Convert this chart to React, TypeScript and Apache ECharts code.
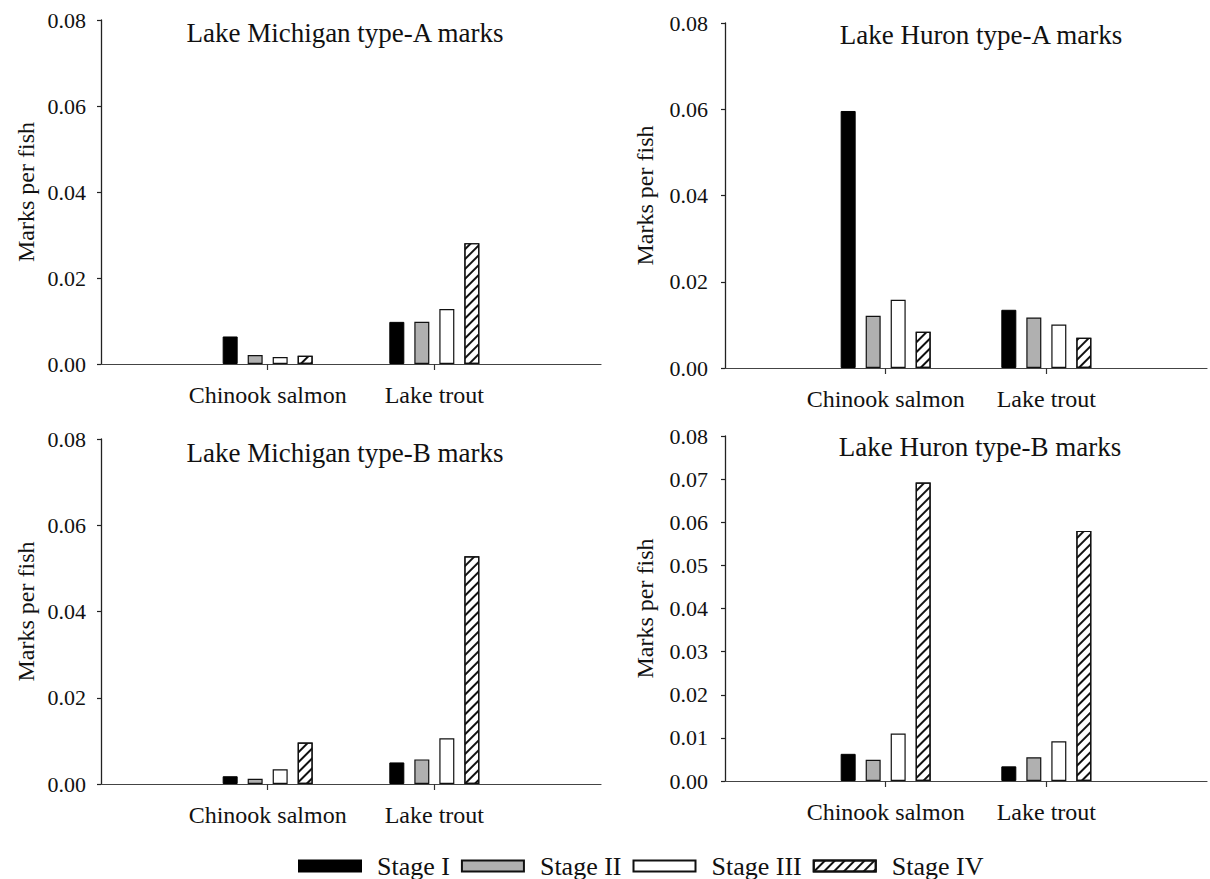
import React, { useEffect, useRef } from "react";
import * as echarts from "echarts";

const categories = ["Chinook salmon", "Lake trout"];
const stages = ["Stage I", "Stage II", "Stage III", "Stage IV"];
const panelTitles = [
  "Lake Michigan type-A marks",
  "Lake Huron type-A marks",
  "Lake Michigan type-B marks",
  "Lake Huron type-B marks",
];

// values per stage (I..IV)
const michiganAChinook = [0.0064, 0.0021, 0.0016, 0.0019];
const michiganATrout = [0.0098, 0.0098, 0.0128, 0.0281];
const huronAChinook = [0.0596, 0.0121, 0.0158, 0.0084];
const huronATrout = [0.0135, 0.0117, 0.0101, 0.007];
const michiganBChinook = [0.0018, 0.0012, 0.0034, 0.0096];
const michiganBTrout = [0.005, 0.0057, 0.0106, 0.0528];
const huronBChinook = [0.0063, 0.0049, 0.011, 0.0692];
const huronBTrout = [0.0034, 0.0055, 0.0092, 0.058];

const yMax = [0.08, 0.08, 0.08, 0.08];
const yStep = [0.02, 0.02, 0.02, 0.01];

const FONT = "Liberation Serif";

export default function App() {
  const ref = useRef<HTMLDivElement>(null);

  useEffect(() => {
    document.body.style.margin = "0";
    if (!ref.current) return;
    const chart = echarts.init(ref.current, undefined, { renderer: "svg" });

    const chinook = [michiganAChinook, huronAChinook, michiganBChinook, huronBChinook];
    const trout = [michiganATrout, huronATrout, michiganBTrout, huronBTrout];

    const grids = [
      { left: 101, top: 20, width: 500, height: 344 },
      { left: 725, top: 23, width: 494, height: 345 },
      { left: 101, top: 439, width: 500, height: 345 },
      { left: 725, top: 436, width: 494, height: 345 },
    ];
    const nameGaps = [63, 68, 63, 68];
    const titlePos = [
      [345, 33],
      [981, 35],
      [345, 453],
      [980, 447],
    ];

    const stageStyles: any[] = [
      { color: "#000", borderColor: "#000", borderWidth: 1 },
      { color: "#b0b0b0", borderColor: "#111", borderWidth: 1.2 },
      { color: "#fff", borderColor: "#111", borderWidth: 1.2 },
      {
        color: "#fff",
        borderColor: "#111",
        borderWidth: 1.2,
        decal: {
          symbol: "rect",
          symbolSize: 1,
          dashArrayX: [1, 0],
          dashArrayY: [1.3, 4.4],
          rotation: -Math.PI / 4,
          color: "#111",
        },
      },
    ];

    const xData = ["", ...categories, ""];

    const xAxis = grids.map((_, i) => ({
      type: "category",
      gridIndex: i,
      data: xData,
      boundaryGap: false,
      axisLine: { show: true, lineStyle: { color: "#444", width: 1.2 } },
      axisTick: {
        show: true,
        length: 6,
        interval: (idx: number) => idx === 1 || idx === 2,
        lineStyle: { color: "#333", width: 1.2 },
      },
      axisLabel: {
        interval: 0,
        margin: 19,
        fontSize: 24,
        fontFamily: "Liberation Serif, serif",
        fontStyle: "normal",
        fontWeight: "normal",
        color: "#111",
      },
      splitLine: { show: false },
    }));

    const yAxis = grids.map((_, i) => ({
      type: "value",
      gridIndex: i,
      min: 0,
      max: yMax[i],
      interval: yStep[i],
      name: "Marks per fish",
      nameLocation: "middle",
      nameGap: nameGaps[i],
      nameTextStyle: {
        fontSize: 24,
        fontFamily: "Liberation Serif, serif",
        fontStyle: "normal",
        fontWeight: "normal",
        color: "#111",
      },
      axisLine: { show: true, lineStyle: { color: "#222", width: 1.3 } },
      axisTick: { show: true, length: 4, inside: false, lineStyle: { color: "#222", width: 1.2 } },
      axisLabel: {
        margin: i % 2 === 0 ? 15 : 17,
        fontSize: 22,
        fontFamily: "Liberation Serif, serif",
        fontStyle: "normal",
        fontWeight: "normal",
        color: "#111",
        formatter: (v: number) => v.toFixed(2),
      },
      splitLine: { show: false },
    }));

    const series: any[] = [];
    grids.forEach((_, p) => {
      stages.forEach((s, k) => {
        series.push({
          type: "bar",
          name: s,
          xAxisIndex: p,
          yAxisIndex: p,
          data: [null, chinook[p][k], trout[p][k], null],
          barWidth: 15,
          barGap: "66.7%",
          itemStyle: stageStyles[k],
        });
      });
    });

    chart.setOption({
      animation: false,
      backgroundColor: "#fff",
      textStyle: { fontFamily: FONT },
      grid: grids,
      xAxis,
      yAxis,
      series,
      legend: {
        data: stages,
        left: 298,
        top: 853,
        padding: 0,
        icon: "rect",
        itemWidth: 62,
        itemHeight: 11,
        itemGap: 11,
        textStyle: {
          fontSize: 26,
          fontFamily: FONT,
          color: "#111",
          padding: [0, 0, 0, 11],
        },
      },
      graphic: panelTitles.map((t, i) => ({
        type: "text",
        x: titlePos[i][0],
        y: titlePos[i][1],
        style: {
          text: t,
          fontSize: 27,
          fontFamily: FONT,
          fill: "#111",
          align: "center",
          verticalAlign: "middle",
        },
      })),
    });

    return () => chart.dispose();
  }, []);

  return <div ref={ref} style={{ width: 1210, height: 879 }} />;
}
